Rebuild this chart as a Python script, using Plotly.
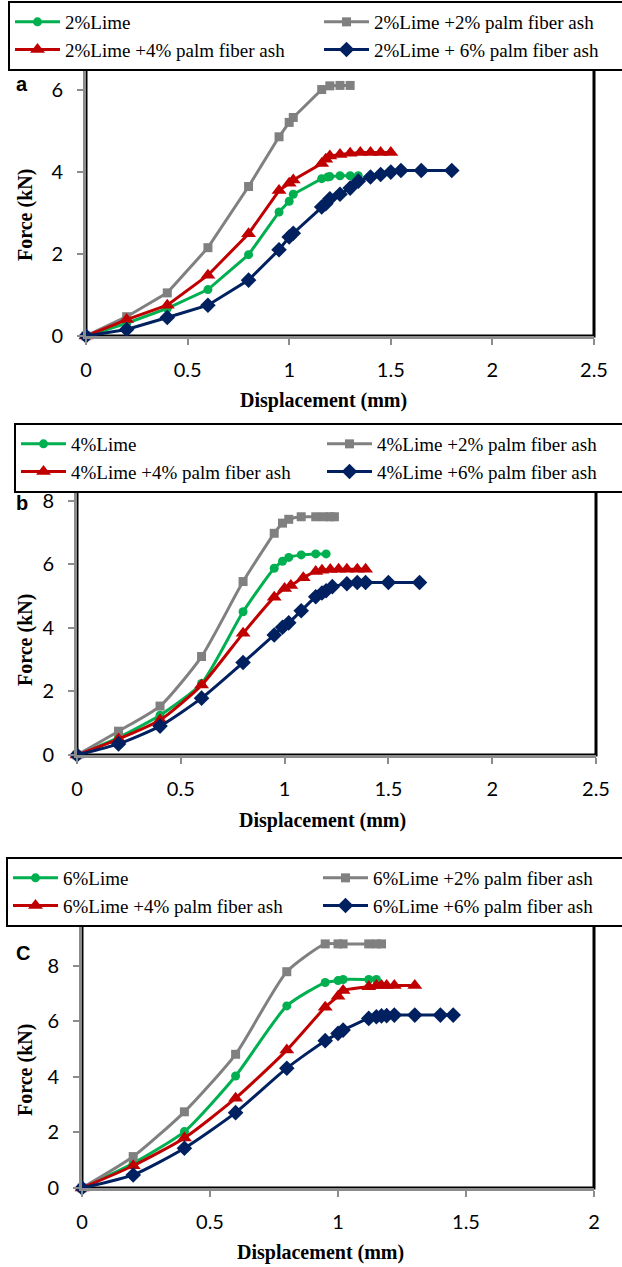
import plotly.graph_objects as go

W, H = 622, 1267

# ---------------- Panel a (2% lime) ----------------
a_names = ["2%Lime", "2%Lime +2% palm fiber ash", "2%Lime +4% palm fiber ash", "2%Lime + 6% palm fiber ash"]
a_lime_x = [0, 0.2, 0.4, 0.6, 0.8, 0.95, 1.0, 1.02, 1.16, 1.19, 1.2, 1.25, 1.3, 1.34]
a_lime_y = [0, 0.31, 0.67, 1.13, 1.98, 3.02, 3.28, 3.45, 3.83, 3.87, 3.88, 3.9, 3.9, 3.9]
a_ash2_x = [0, 0.2, 0.4, 0.6, 0.8, 0.95, 1.0, 1.02, 1.16, 1.2, 1.25, 1.3]
a_ash2_y = [0, 0.47, 1.05, 2.15, 3.64, 4.85, 5.2, 5.32, 6.0, 6.09, 6.1, 6.1]
a_ash4_x = [0, 0.2, 0.4, 0.6, 0.8, 0.95, 1.0, 1.02, 1.16, 1.18, 1.2, 1.25, 1.3, 1.35, 1.4, 1.45, 1.5]
a_ash4_y = [0, 0.4, 0.75, 1.48, 2.49, 3.54, 3.72, 3.8, 4.2, 4.3, 4.38, 4.42, 4.45, 4.47, 4.47, 4.47, 4.47]
a_ash6_x = [0, 0.2, 0.4, 0.6, 0.8, 0.95, 1.0, 1.02, 1.16, 1.18, 1.2, 1.25, 1.3, 1.34, 1.4, 1.45, 1.5, 1.55, 1.65, 1.8]
a_ash6_y = [0, 0.16, 0.45, 0.75, 1.36, 2.1, 2.41, 2.5, 3.14, 3.22, 3.34, 3.45, 3.6, 3.77, 3.87, 3.93, 3.99, 4.03, 4.03, 4.03]

# ---------------- Panel b (4% lime) ----------------
b_names = ["4%Lime", "4%Lime +2% palm fiber ash", "4%Lime +4% palm fiber ash", "4%Lime +6% palm fiber ash"]
b_lime_x = [0, 0.2, 0.4, 0.6, 0.8, 0.95, 0.99, 1.02, 1.08, 1.15, 1.2]
b_lime_y = [0, 0.55, 1.25, 2.25, 4.51, 5.88, 6.1, 6.22, 6.3, 6.33, 6.33]
b_ash2_x = [0, 0.2, 0.4, 0.6, 0.8, 0.95, 0.99, 1.02, 1.08, 1.15, 1.19, 1.22, 1.24]
b_ash2_y = [0, 0.75, 1.54, 3.1, 5.46, 6.98, 7.3, 7.42, 7.5, 7.5, 7.5, 7.5, 7.5]
b_ash4_x = [0, 0.2, 0.4, 0.6, 0.8, 0.95, 1.0, 1.03, 1.09, 1.15, 1.18, 1.22, 1.26, 1.3, 1.35, 1.39]
b_ash4_y = [0, 0.5, 1.1, 2.2, 3.83, 4.97, 5.24, 5.34, 5.58, 5.78, 5.82, 5.84, 5.85, 5.85, 5.85, 5.85]
b_ash6_x = [0, 0.2, 0.4, 0.6, 0.8, 0.95, 0.99, 1.02, 1.08, 1.15, 1.18, 1.2, 1.23, 1.3, 1.35, 1.39, 1.5, 1.65]
b_ash6_y = [0, 0.35, 0.91, 1.79, 2.91, 3.78, 4.02, 4.16, 4.54, 4.98, 5.1, 5.17, 5.3, 5.39, 5.43, 5.43, 5.43, 5.43]

# ---------------- Panel c (6% lime) ----------------
c_names = ["6%Lime", "6%Lime +2% palm fiber ash", "6%Lime +4% palm fiber ash", "6%Lime +6% palm fiber ash"]
c_lime_x = [0, 0.2, 0.4, 0.6, 0.8, 0.95, 1.0, 1.02, 1.12, 1.15]
c_lime_y = [0, 0.89, 2.03, 4.03, 6.55, 7.39, 7.46, 7.5, 7.5, 7.5]
c_ash2_x = [0, 0.2, 0.4, 0.6, 0.8, 0.95, 1.0, 1.02, 1.12, 1.15, 1.17]
c_ash2_y = [0, 1.13, 2.74, 4.81, 7.78, 8.78, 8.78, 8.78, 8.78, 8.78, 8.78]
c_ash4_x = [0, 0.2, 0.4, 0.6, 0.8, 0.95, 1.0, 1.02, 1.12, 1.15, 1.17, 1.19, 1.22, 1.3]
c_ash4_y = [0, 0.8, 1.8, 3.23, 4.96, 6.5, 6.9, 7.1, 7.24, 7.28, 7.28, 7.28, 7.28, 7.28]
c_ash6_x = [0, 0.2, 0.4, 0.6, 0.8, 0.95, 1.0, 1.02, 1.12, 1.15, 1.17, 1.19, 1.22, 1.3, 1.4, 1.45]
c_ash6_y = [0, 0.47, 1.43, 2.71, 4.31, 5.3, 5.56, 5.68, 6.1, 6.16, 6.19, 6.2, 6.22, 6.22, 6.22, 6.22]

panel_labels = ["a", "b", "C"]
x_title = "Displacement (mm)"
y_title = "Force (kN)"

# styles
colors = ["#00B050", "#808080", "#C00000", "#002060"]
symbols = ["circle", "square", "triangle-up", "diamond"]
msizes = [9, 9, 13, 12]

def fx(px):
    return px / W

def fy(py):
    return 1 - py / H

# layout geometry per panel (pixels)
panels = [
    dict(data=[(a_lime_x, a_lime_y), (a_ash2_x, a_ash2_y), (a_ash4_x, a_ash4_y), (a_ash6_x, a_ash6_y)],
         names=a_names, plot=(86, 594, 69, 336), xmax=2.5, ymax=6.5, ydtick=2,
         leg=(8, 1), legw=249, letter=(22, 84), xt=(323, 400), yt=(25, 215), shape="linear"),
    dict(data=[(b_lime_x, b_lime_y), (b_ash2_x, b_ash2_y), (b_ash4_x, b_ash4_y), (b_ash6_x, b_ash6_y)],
         names=b_names, plot=(77, 596, 485, 755), xmax=2.5, ymax=8.5, ydtick=2,
         leg=(14, 423), legw=246, letter=(22, 503), xt=(322, 820), yt=(25, 640), shape="spline"),
    dict(data=[(c_lime_x, c_lime_y), (c_ash2_x, c_ash2_y), (c_ash4_x, c_ash4_y), (c_ash6_x, c_ash6_y)],
         names=c_names, plot=(82, 594, 925, 1188), xmax=2.0, ymax=9.46, ydtick=2,
         leg=(6, 857), legw=250, letter=(23, 953), xt=(320, 1252), yt=(25, 1070), shape="spline"),
]

fig = go.Figure()
layout = dict(
    width=W, height=H, margin=dict(l=0, r=0, t=0, b=0, autoexpand=False),
    paper_bgcolor="white", plot_bgcolor="white", showlegend=True,
    annotations=[], shapes=[],
)

for i, p in enumerate(panels):
    sfx = "" if i == 0 else str(i + 1)
    xa, ya = "x" + sfx, "y" + sfx
    lg = "legend" + sfx
    for j, (xs, ys) in enumerate(p["data"]):
        line = dict(color=colors[j], width=3, shape=p["shape"])
        if p["shape"] == "spline":
            line["smoothing"] = 0.6
        fig.add_trace(go.Scatter(
            x=xs, y=ys, name=p["names"][j], mode="lines+markers",
            line=line,
            marker=dict(symbol=symbols[j], size=msizes[j], color=colors[j]),
            xaxis=xa, yaxis=ya, legend=lg, cliponaxis=False,
        ))
    x0, x1, y0, y1 = p["plot"]
    axcommon = dict(showline=True, linecolor="#8c8c8c", linewidth=3, ticks="outside",
                    tickcolor="#8c8c8c", tickwidth=2, ticklen=6, showgrid=False, zeroline=False,
                    automargin=False,
                    tickfont=dict(family="Lato", size=20, color="black"))
    layout["xaxis" + sfx] = dict(domain=[fx(x0), fx(x1)], range=[0, p["xmax"]], dtick=0.5,
                                 anchor=ya, ticklabelstandoff=8, **axcommon)
    layout["yaxis" + sfx] = dict(domain=[fy(y1), fy(y0)], range=[0, p["ymax"]], dtick=p["ydtick"],
                                 anchor=xa, ticklabelstandoff=10, **axcommon)
    layout["shapes"].append(dict(type="rect", xref="paper", yref="paper",
                                 x0=fx(x0), x1=fx(x1), y0=fy(y1), y1=fy(y0),
                                 line=dict(color="black", width=3), layer="below"))
    lx, ly = p["leg"]
    layout[lg] = dict(orientation="h", x=fx(lx), y=fy(ly), xanchor="left", yanchor="top",
                      xref="container", yref="container",
                      bordercolor="black", borderwidth=2, bgcolor="white",
                      font=dict(family="Liberation Serif", size=19, color="black"),
                      entrywidth=p["legw"], entrywidthmode="pixels", itemwidth=45, traceorder="normal")
    layout["annotations"].append(dict(text="<b>%s</b>" % panel_labels[i], x=fx(p["letter"][0]), y=fy(p["letter"][1]),
                                      xref="paper", yref="paper", showarrow=False,
                                      xanchor="center", yanchor="middle",
                                      font=dict(family="Liberation Sans", size=20, color="black")))
    layout["annotations"].append(dict(text="<b>%s</b>" % x_title, x=fx(p["xt"][0]), y=fy(p["xt"][1]),
                                      xref="paper", yref="paper", showarrow=False,
                                      xanchor="center", yanchor="middle",
                                      font=dict(family="Liberation Serif", size=20, color="black")))
    layout["annotations"].append(dict(text="<b>%s</b>" % y_title, x=fx(p["yt"][0]), y=fy(p["yt"][1]),
                                      xref="paper", yref="paper", showarrow=False, textangle=-90,
                                      xanchor="center", yanchor="middle",
                                      font=dict(family="Liberation Serif", size=20, color="black")))

fig.update_layout(**layout)
fig.write_html("out.html")
